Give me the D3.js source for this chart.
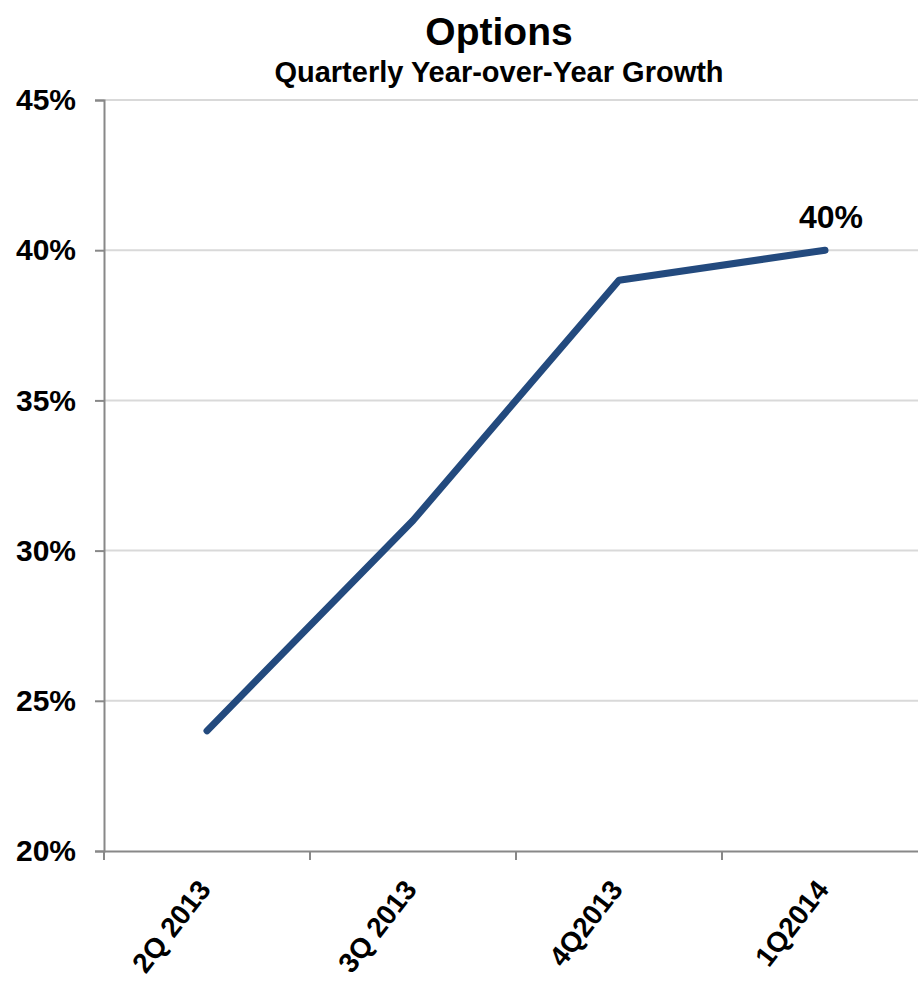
<!DOCTYPE html>
<html>
<head>
<meta charset="utf-8">
<script src="https://cdn.jsdelivr.net/npm/d3@7"></script>
<style>
  html, body { margin: 0; padding: 0; background: #fff; }
  svg { display: block; font-family: "Liberation Sans", Arial, sans-serif; }
</style>
</head>
<body>
<svg id="chart" width="918" height="984"></svg>
<script>
// Quarterly year-over-year growth of options
const quarters = ["2Q 2013", "3Q 2013", "4Q2013", "1Q2014"];
const growth = [24, 31, 39, 40];
const yTicks = [20, 25, 30, 35, 40, 45];
const labelledIndex = 3;

(function draw() {
  const svg = d3.select("#chart");
  const plotLeft = 104, plotTop = 100, plotBottom = 851, step = 206;
  const plotRight = plotLeft + step * quarters.length;

  const x = d3.scaleBand().domain(quarters).range([plotLeft, plotRight]);
  const y = d3.scaleLinear().domain([20, 45]).range([plotBottom, plotTop]);

  // Horizontal gridlines
  svg.append("g")
    .selectAll("line")
    .data(yTicks.filter(t => t > 20))
    .join("line")
    .attr("x1", plotLeft).attr("x2", plotRight)
    .attr("y1", d => y(d)).attr("y2", d => y(d))
    .attr("stroke", "#d9d9d9").attr("stroke-width", 2);

  // Y axis
  const yAxis = svg.append("g")
    .attr("transform", `translate(${plotLeft},0)`)
    .call(d3.axisLeft(y).tickValues(yTicks).tickFormat(d => d + "%").tickSize(9).tickPadding(19));
  yAxis.select(".domain").attr("stroke", "#888").attr("stroke-width", 2);
  yAxis.selectAll(".tick line").attr("stroke", "#888").attr("stroke-width", 2);
  yAxis.selectAll(".tick text")
    .attr("fill", "#000")
    .style("font-size", "30px").style("font-weight", "bold")
    .style("font-family", "'Liberation Sans', Arial, sans-serif");

  // X axis with ticks on category boundaries
  const xAxis = svg.append("g")
    .attr("transform", `translate(0,${plotBottom})`)
    .call(d3.axisBottom(x).tickSize(0).tickSizeOuter(0));
  xAxis.select(".domain").attr("stroke", "#888").attr("stroke-width", 2);
  xAxis.selectAll(".tick line").remove();
  xAxis.selectAll(".tick text")
    .attr("fill", "#000")
    .style("font-size", "28px").style("font-weight", "bold")
    .style("font-family", "'Liberation Sans', Arial, sans-serif")
    .attr("text-anchor", "end")
    .attr("dy", null)
    .attr("y", 0)
    .attr("transform", "translate(5,39) rotate(-52)");
  svg.append("g")
    .selectAll("line")
    .data(quarters)
    .join("line")
    .attr("x1", d => x(d)).attr("x2", d => x(d))
    .attr("y1", plotBottom).attr("y2", plotBottom + 9)
    .attr("stroke", "#888").attr("stroke-width", 2);

  // Growth line
  const line = d3.line()
    .x((d, i) => x(quarters[i]) + x.bandwidth() / 2)
    .y(d => y(d));
  svg.append("path")
    .datum(growth)
    .attr("d", line)
    .attr("fill", "none")
    .attr("stroke", "#234a7e")
    .attr("stroke-width", 7)
    .attr("stroke-linecap", "round")
    .attr("stroke-linejoin", "round");

  // Value label on the latest quarter
  svg.append("text")
    .attr("x", x(quarters[labelledIndex]) + x.bandwidth() / 2 + 6)
    .attr("y", y(growth[labelledIndex]) - 22)
    .attr("text-anchor", "middle")
    .style("font-size", "32px").style("font-weight", "bold")
    .text(growth[labelledIndex] + "%");

  // Titles
  svg.append("text")
    .attr("x", 499).attr("y", 45)
    .attr("text-anchor", "middle")
    .style("font-size", "39px").style("font-weight", "bold")
    .text("Options");
  svg.append("text")
    .attr("x", 499).attr("y", 82)
    .attr("text-anchor", "middle")
    .style("font-size", "29px").style("font-weight", "bold")
    .text("Quarterly Year-over-Year Growth");
})();
</script>
</body>
</html>
